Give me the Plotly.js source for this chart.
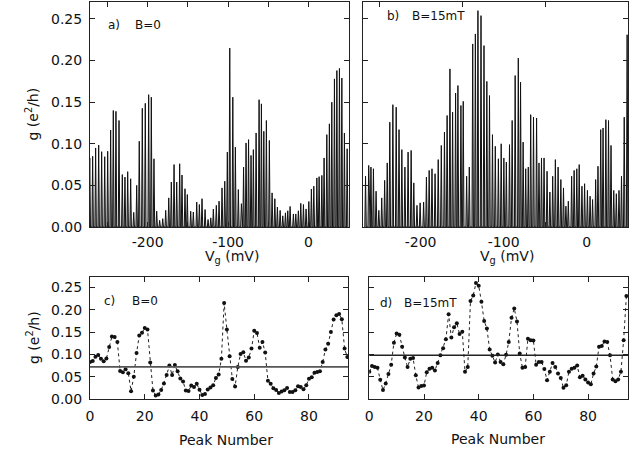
<!DOCTYPE html>
<html>
<head>
<meta charset="utf-8">
<script src="https://cdn.plot.ly/plotly-3.0.1.min.js"></script>
<style>html,body{margin:0;padding:0;background:#fff;}#chart{width:639px;height:452px;}</style>
</head>
<body>
<div id="chart"></div>
<script>
// ---- data ----
// peak heights g (e^2/h), B = 0, peak number 0..94
const heightsB0 = [0.083,0.085,0.095,0.0985,0.0905,0.0845,0.091,0.1166,0.140,0.139,
0.128,0.063,0.060,0.0665,0.058,0.0176,0.050,0.103,0.1426,0.1486,
0.159,0.156,0.082,0.019,0.008,0.010,0.020,0.035,0.054,0.075,
0.054,0.076,0.0625,0.046,0.039,0.019,0.018,0.030,0.027,0.034,
0.021,0.009,0.011,0.0215,0.026,0.031,0.047,0.055,0.090,0.215,
0.156,0.096,0.045,0.028,0.072,0.101,0.105,0.086,0.093,0.113,
0.153,0.148,0.115,0.128,0.104,0.041,0.034,0.024,0.020,0.0134,
0.017,0.0195,0.0247,0.0157,0.0157,0.0195,0.0284,0.027,0.0217,0.0306,
0.0456,0.049,0.059,0.0605,0.062,0.083,0.111,0.124,0.150,0.178,
0.188,0.1906,0.179,0.113,0.094];
// peak heights, B = 15 mT
const heightsB15 = [0.061,0.074,0.072,0.070,0.043,0.020,0.035,0.056,0.077,0.126,
0.147,0.144,0.117,0.093,0.072,0.090,0.092,0.053,0.026,0.029,
0.030,0.060,0.068,0.070,0.064,0.081,0.098,0.114,0.134,0.190,
0.138,0.161,0.170,0.146,0.151,0.061,0.072,0.220,0.232,0.260,
0.254,0.218,0.175,0.158,0.111,0.097,0.082,0.100,0.083,0.078,
0.099,0.128,0.182,0.203,0.174,0.102,0.070,0.072,0.135,0.132,
0.131,0.077,0.083,0.083,0.067,0.042,0.061,0.081,0.072,0.057,
0.047,0.025,0.031,0.061,0.068,0.070,0.075,0.049,0.052,0.044,
0.037,0.033,0.057,0.073,0.117,0.119,0.129,0.128,0.098,0.044,
0.040,0.044,0.061,0.132,0.231];
// gate voltage (mV) of each peak
const peakVgB0 = [-272.1,-268.5,-264.8,-261.0,-257.3,-253.5,-249.8,-246.1,-242.8,-239.5,
-235.7,-231.6,-228.3,-224.9,-221.2,-217.4,-213.7,-210.5,-206.7,-203.0,
-198.8,-195.5,-192.2,-188.8,-185.1,-181.3,-177.6,-173.8,-170.6,-167.2,
-163.9,-160.2,-157.3,-153.6,-150.7,-146.5,-143.2,-139.0,-135.7,-132.4,
-128.6,-124.9,-121.5,-118.3,-114.6,-111.2,-107.5,-104.1,-100.9,-97.9,
-94.1,-90.9,-87.2,-83.4,-80.7,-77.6,-74.5,-71.4,-68.5,-65.1,
-61.4,-58.5,-55.5,-52.3,-48.6,-45.2,-41.8,-38.6,-35.2,-31.9,
-28.6,-25.7,-22.8,-18.7,-15.7,-12.5,-9.5,-6.2,-2.9,0.5,
3.7,6.7,10.5,13.3,16.7,19.5,22.9,26.1,29.1,32.4,
35.4,38.6,41.6,44.8,48.2];
const peakVgB15 = [-266.3,-262.5,-259.8,-256.8,-253.6,-250.3,-246.8,-243.3,-240.2,-237.1,
-233.4,-229.4,-226.0,-222.6,-218.9,-215.1,-211.4,-208.2,-204.4,-200.6,
-196.4,-193.0,-189.7,-186.3,-182.6,-178.8,-175.1,-171.3,-168.1,-164.7,
-161.5,-157.9,-155.1,-151.5,-148.7,-144.6,-141.4,-137.3,-134.1,-131.0,
-127.3,-123.7,-120.3,-117.1,-113.5,-110.1,-106.4,-103.0,-99.8,-96.8,
-93.0,-89.8,-86.2,-82.4,-79.7,-76.6,-73.5,-70.4,-67.5,-64.1,
-60.4,-57.5,-54.5,-51.4,-47.8,-44.4,-41.0,-37.8,-34.5,-31.2,
-28.0,-25.1,-22.2,-18.2,-15.2,-12.0,-9.1,-5.8,-2.6,0.8,
4.0,7.0,10.7,13.5,16.8,19.6,23.0,26.2,29.2,32.5,
35.6,38.8,41.8,45.1,48.6];
const meanB0 = 0.072;
const meanB15 = 0.098;
const vgTicks = [-200,-100,0];
const vgTickText = ['-200','-100','0'];
const vgMinorA = [-250,-150,-50];
const vgMinorB = [-250,-150,-50,50];
const gTicks = [0,0.05,0.10,0.15,0.20,0.25];
const gTickText = ['0.00','0.05','0.10','0.15','0.20','0.25'];
const peakTicks = [0,20,40,60,80];

// ---- build ----
const W = 639, H = 452;
const FONT = 'DejaVu Sans';
function px(x){return x/W;}
function py(y){return 1 - y/H;}
const HW = 0.9; // spike half width in mV
function spikeTrace(vg, h, xa, ya){
  const xs=[], ys=[];
  for(let i=0;i<vg.length;i++){ xs.push(vg[i]-HW, vg[i], vg[i]+HW); ys.push(0, h[i], 0); }
  return {x:xs, y:ys, xaxis:xa, yaxis:ya, type:'scatter', mode:'lines',
    line:{color:'#111', width:1}, fill:'tozeroy', fillcolor:'rgba(110,110,110,0.55)', hoverinfo:'skip'};
}
function peakTrace(h, xa, ya){
  return {x:h.map((_,i)=>i), y:h, xaxis:xa, yaxis:ya, type:'scatter', mode:'lines+markers',
    line:{color:'#222', width:1, dash:'dot'}, marker:{color:'#111', size:4}};
}
const axBase = {showgrid:false, zeroline:false, showline:true, linecolor:'#222', linewidth:1,
  ticks:'inside', ticklen:5, tickwidth:1, tickcolor:'#222', mirror:'ticks',
  tickfont:{family:FONT, size:14, color:'#111'}};
const minorA = {ticks:'inside', ticklen:5, tickwidth:1, tickcolor:'#222', tickvals:vgMinorA, showgrid:false};
const minorB = {ticks:'inside', ticklen:5, tickwidth:1, tickcolor:'#222', tickvals:vgMinorB, showgrid:false};

const data = [
  spikeTrace(peakVgB0, heightsB0, 'x', 'y'),
  spikeTrace(peakVgB15, heightsB15, 'x2', 'y2'),
  peakTrace(heightsB0, 'x3', 'y3'),
  peakTrace(heightsB15, 'x4', 'y4')
];

const layout = {
  width:W, height:H, margin:{l:0,r:0,t:0,b:0}, showlegend:false,
  paper_bgcolor:'#fff', plot_bgcolor:'#fff',
  xaxis: Object.assign({}, axBase, {domain:[px(90),px(349)], range:[-271.8,50.5], anchor:'y',
    tickmode:'array', tickvals:vgTicks, ticktext:vgTickText, ticklabelstandoff:2, minor:minorA}),
  yaxis: Object.assign({}, axBase, {domain:[py(227),py(2)], range:[0,0.2704], anchor:'x',
    tickmode:'array', tickvals:gTicks, ticktext:gTickText, ticklabelstandoff:4}),
  xaxis2: Object.assign({}, axBase, {domain:[px(363.3),px(628.3)], range:[-269,50], anchor:'y2',
    tickmode:'array', tickvals:vgTicks, ticktext:vgTickText, ticklen:0, ticklabelstandoff:2, minor:minorB}),
  yaxis2: Object.assign({}, axBase, {domain:[py(227),py(2)], range:[0,0.2704], anchor:'x2',
    tickmode:'array', tickvals:gTicks, showticklabels:false}),
  xaxis3: Object.assign({}, axBase, {domain:[px(90),px(348)], range:[0,94.25], anchor:'y3',
    tickmode:'array', tickvals:peakTicks, ticklabelstandoff:4}),
  yaxis3: Object.assign({}, axBase, {domain:[py(399),py(277.3)], range:[0,0.2729], anchor:'x3',
    tickmode:'array', tickvals:gTicks, ticktext:gTickText, ticklabelstandoff:4}),
  xaxis4: Object.assign({}, axBase, {domain:[px(369.3),px(628.3)], range:[0,94.7], anchor:'y4',
    tickmode:'array', tickvals:peakTicks, ticklabelstandoff:4}),
  yaxis4: Object.assign({}, axBase, {domain:[py(399),py(277.3)], range:[0,0.2729], anchor:'x4',
    tickmode:'array', tickvals:gTicks, showticklabels:false}),
  shapes: [
    {type:'line', xref:'x3 domain', x0:0, x1:1, yref:'y3', y0:meanB0, y1:meanB0, line:{color:'#555', width:1.8}},
    {type:'line', xref:'x4 domain', x0:0, x1:1, yref:'y4', y0:meanB15, y1:meanB15, line:{color:'#222', width:1.5}}
  ],
  annotations: []
};
function ann(text, x, y, opts){
  layout.annotations.push(Object.assign({text:text, x:px(x), y:py(y), xref:'paper', yref:'paper',
    showarrow:false, xanchor:'left', yanchor:'middle', font:{family:FONT, size:12, color:'#111'}}, opts||{}));
}
ann('a)', 106, 24.5); ann('B=0', 133, 24.5);
ann('b)', 385, 15.5); ann('B=15mT', 410, 15.5);
ann('c)', 101.7, 301); ann('B=0', 130, 301);
ann('d)', 378.3, 302.5); ann('B=15mT', 401.7, 302.5);
const tf = {family:FONT, size:14, color:'#111'};
ann('g (e<sup>2</sup>/h)', 33, 114.5, {xanchor:'center', textangle:-90, font:tf});
ann('g (e<sup>2</sup>/h)', 33, 338, {xanchor:'center', textangle:-90, font:tf});
ann('V<sub>g</sub> (mV)', 232, 257, {xanchor:'center', font:tf});
ann('V<sub>g</sub> (mV)', 507, 257, {xanchor:'center', font:tf});
ann('Peak Number', 226, 440, {xanchor:'center', font:tf});
ann('Peak Number', 497.5, 439, {xanchor:'center', font:tf});

Plotly.newPlot('chart', data, layout, {staticPlot:true, displayModeBar:false});
</script>
</body>
</html>
